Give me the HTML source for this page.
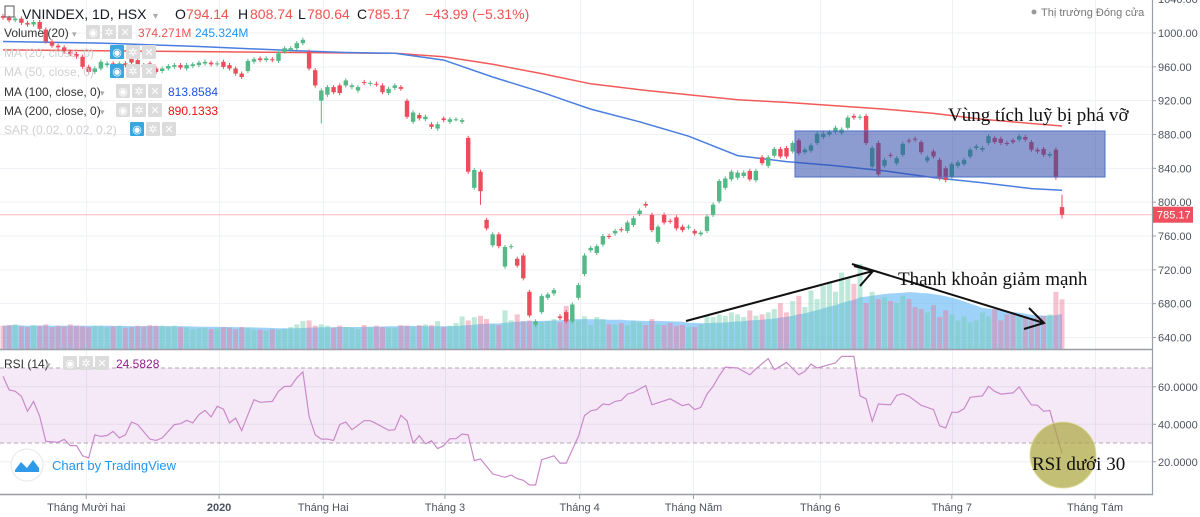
<!DOCTYPE html>
<html><head><meta charset="utf-8"><style>
html,body{margin:0;padding:0;background:#fff;}
#wrap{position:relative;width:1200px;height:517px;overflow:hidden;font-family:"Liberation Sans","DejaVu Sans",sans-serif;}
svg text{font-family:"Liberation Sans","DejaVu Sans",sans-serif;}
.serif{font-family:"Liberation Serif","DejaVu Serif",serif !important;}
</style></head><body>
<div id="wrap">
<svg id="svg" width="1200" height="517" viewBox="0 0 1200 517" xmlns="http://www.w3.org/2000/svg"></svg>
</div>
<script>
const opens = [1020,1018,1015,1017,1012,1010,1013,1004,990,985,983,978,975,972,960,954,958,962,964,961,964,970,968,962,964,958,955,958,960,962,958,961,962,964,965,963,966,962,958,952,955,966,970,968,969,967,978,980,982,988,978,956,920,927,936,938,938,936,932,942,940,940,938,929,935,936,
920,895,903,898,892,887,899,895,898,895,876,817,836,779,749,762,724,747,733,737,694,655,670,687,692,665,670,659,687,715,743,740,750,760,763,768,766,773,786,798,785,753,785,778,782,771,770,766,762,766,785,801,817,827,829,831,837,826,853,843,855,863,864,860,873,859,861,870,877,880,883,882,888,902,900,902,842,870,843,856,846,856,873,875,871,849,860,850,840,830,843,845,854,864,862,870,876,875,870,873,874,877,871,862,863,855,862,794.14];
const closes = [1018,1015,1017,1012,1010,1013,1005,990,985,983,978,975,972,960,954,958,966,964,961,964,962,965,962,960,958,954,958,961,962,959,962,963,965,966,963,964,960,958,952,948,967,969,968,970,968,976,982,982,988,992,958,938,932,936,930,929,944,938,936,941,941,939,930,934,938,934,
901,906,899,901,889,892,897,898,898,897,836,838,813,769,762,748,747,748,725,710,666,659,689,691,696,663,659,679,702,737,746,748,760,759,766,767,776,781,790,796,767,771,776,777,769,767,771,763,764,783,797,825,828,836,835,835,827,837,846,853,863,854,854,870,858,862,867,881,881,883,888,886,900,900,901,870,864,833,850,855,852,869,872,874,859,853,854,828,826,845,847,850,862,866,864,878,871,870,869,871,878,874,862,860,856,857,829,785.17];
const highOverride = {173: 808.74};
const lowOverride = {52: 893, 78: 797, 173: 780.64};
const volumes = [175,180,185,170,165,180,175,185,165,175,170,185,175,170,165,175,175,165,170,175,160,165,175,170,180,175,175,170,175,165,160,150,155,160,150,155,165,160,150,165,155,145,145,140,150,145,150,165,185,210,215,175,185,175,160,175,165,160,150,180,165,175,165,160,160,180,175,165,180,185,180,210,165,175,195,245,215,240,250,225,185,180,290,215,260,210,215,185,200,210,225,200,325,210,215,245,180,240,225,185,185,195,180,210,200,180,225,185,180,195,175,180,165,165,185,245,240,260,250,275,260,240,290,250,260,275,300,345,275,360,400,315,440,375,475,505,430,575,530,490,640,345,430,375,390,360,345,400,375,315,300,275,330,240,290,260,215,245,200,215,275,245,300,215,260,265,240,245,215,245,250,260,430,374];
const ma100Idx = [0,16,32,48,56,64,72,80,88,92,96,104,112,120,128,136,144,152,160,168,173];
const ma100Val = [990,988,984,979,977,976,968,948,930,920,910,895,878,855,848,843,837,829,823,816,814];
const ma200Idx = [0,16,32,48,64,72,80,88,96,104,112,120,128,136,144,152,160,168,173];
const ma200Val = [980,979,978,977,976,972,963,952,940,933,927,921,918,914,910,905,898,893,890];
const rsiIdx = [0,1,2,3,4,5,6,7,9,10,11,12,13,14,15,16,17,18,19,20,21,22,24,25,26,28,29,30,31,32,33,34,35,36,37,38,39,40,41,42,44,45,46,47,48,49,50,51,52,53,54,55,56,57,59,60,61,63,64,65,66,67,68,69,70,71,72,73,74,75,76,77,78,80,82,83,84,85,86,87,88,90,91,92,94,95,96,97,98,99,100,101,102,103,105,106,109,111,112,113,114,115,116,117,118,120,122,123,124,125,126,127,128,130,131,132,133,135,136,137,139,140,141,142,143,145,146,147,148,150,152,153,154,155,156,157,158,160,161,162,163,165,166,167,168,169,170,171,173];
const rsiVal = [65.6,58.4,57.6,54.9,46.9,52.2,44.2,30.9,30.4,32,28.6,28.6,23.2,22,34.4,33.5,34,36.2,32.7,34.4,41.2,39.8,32.1,31.4,32.7,39.8,40.3,42.1,40.7,45.1,47.4,43.9,49.6,48.1,40.7,43.3,36.6,45.1,53.1,51.7,52.2,57.6,60.2,60.2,64.7,67.9,44.2,34.4,32.1,32.1,31.4,39.8,41.2,37.1,41.9,41.9,40.3,36.8,37.1,44.8,41.9,30,33.9,29.6,31.2,27,28.6,32.3,32.3,34.8,34.3,20.6,21.5,13.5,11.7,12.9,11,10.1,7.6,7.6,21.1,23.2,19.3,19.3,33.5,44.6,47.2,47.8,50.8,50.4,52.2,52.8,56.1,57,60.6,50.4,53.6,49.9,50.8,47.8,49,56.1,60.2,65.9,70.5,70,66.4,69.5,72.3,75,69.1,70.9,73,66.4,68.2,72.1,70,71.8,72.7,76.2,76.2,55.2,53.6,41.6,50.8,50.4,55.4,56.3,54.9,50.1,47.8,39.2,38,46.4,46.4,48.3,54.4,55.2,60.2,57.6,56.1,56.7,59.9,54.9,50.4,50.1,46.9,47.4,24.6];
const priceTicks = [1040,1000,960,920,880,840,800,760,720,680,640];
const priceTickLabels = ["1040.00","1000.00","960.00","920.00","880.00","840.00","800.00","760.00","720.00","680.00","640.00"];
const rsiTicks = [60,40,20];
const rsiTickLabels = ["60.0000","40.0000","20.0000"];
const monthLabels = ["Tháng Mười hai","2020","Tháng Hai","Tháng 3","Tháng 4","Tháng Năm","Tháng 6","Tháng 7","Tháng Tám"];
const monthIdx = [13.6,35.3,52.3,72.2,94.2,112.8,133.5,155,178.4];
const lastClose = 785.17;

const NS='http://www.w3.org/2000/svg';
const svg=document.getElementById('svg');
const N=closes.length;
const X0=3, X1=1062;
const step=(X1-X0)/(N-1);
function xOf(i){return X0+i*step;}
function yP(p){return 337.5-(p-640)*(304.5/360);}
function yV(v){return 349-v*0.133;}
function yR(v){return 368+(70-v)*1.875;}
function mk(tag,attrs,parent){const e=document.createElementNS(NS,tag);for(const k in attrs)e.setAttribute(k,attrs[k]);(parent||svg).appendChild(e);return e;}
function grp(name){const g=mk('g',{});return g;}

// grid
const grid=grp('grid');
priceTicks.forEach(p=>{const y=yP(p);const l=mk('line',{x1:0,x2:1152,y1:y,y2:y,stroke:'#eef1f6','stroke-width':1},grid);});
rsiTicks.forEach(v=>{const y=yR(v);const l=mk('line',{x1:0,x2:1152,y1:y,y2:y,stroke:'#eef1f6','stroke-width':1},grid);});
monthIdx.forEach(m=>{const x=Math.round(xOf(m))+0.5;const l=mk('line',{x1:x,x2:x,y1:0,y2:494,stroke:'#eef1f6','stroke-width':1},grid);});

// volume MA area
const volG=grp('volume-pane');
const vma=[];for(let i=0;i<N;i++){let s=0,c=0;for(let j=Math.max(0,i-19);j<=i;j++){s+=volumes[j];c++;}vma.push(s/c);}
let d='M'+xOf(0)+' 349';for(let i=0;i<N;i++)d+=' L'+xOf(i).toFixed(1)+' '+yV(vma[i]).toFixed(1);d+=' L'+xOf(N-1)+' 349 Z';
const va=mk('path',{d:d,fill:'rgba(95,180,245,0.6)'},volG);
for(let i=0;i<N;i++){const up=closes[i]>=opens[i];const y=yV(volumes[i]);
const r=mk('rect',{x:(xOf(i)-2.5).toFixed(1),y:y.toFixed(1),width:5,height:(349-y).toFixed(1),fill:up?'rgba(110,205,170,0.45)':'rgba(235,120,150,0.45)'},volG);
}

// price line
const pl=mk('line',{x1:0,x2:1152,y1:yP(lastClose),y2:yP(lastClose),stroke:'rgba(242,54,69,0.35)','stroke-width':1});


// MAs
function maPath(idx,val,color,name){let s='';for(let k=0;k<idx.length;k++)s+=(k?' L':'M')+xOf(idx[k]).toFixed(1)+' '+yP(val[k]).toFixed(1);const p=mk('path',{d:s,fill:'none',stroke:color,'stroke-width':1.5});}
maPath(ma200Idx,ma200Val,'#f25a5a','ma200-line');
maPath(ma100Idx,ma100Val,'#4a7ee0','ma100-line');

// candles
const cG=grp('candles');
for(let i=0;i<N;i++){const o=opens[i],c=closes[i];const up=c>=o;const col=up?'#53b987':'#eb4d5c';
const hi=(highOverride[i]!==undefined)?highOverride[i]:Math.max(o,c)+2.5;const lo=(lowOverride[i]!==undefined)?lowOverride[i]:Math.min(o,c)-2.5;
const x=xOf(i);
const w=mk('line',{x1:x.toFixed(1),x2:x.toFixed(1),y1:yP(hi).toFixed(1),y2:yP(lo).toFixed(1),stroke:col,'stroke-width':1},cG);
const yt=yP(Math.max(o,c)),yb=yP(Math.min(o,c));
const b=mk('rect',{x:(x-2.2).toFixed(1),y:yt.toFixed(1),width:4.4,height:Math.max(1,yb-yt).toFixed(1),fill:col},cG);}

// RSI
const rG=grp('rsi-pane');
const band=mk('rect',{x:0,y:yR(70),width:1152,height:yR(30)-yR(70),fill:'rgba(156,39,176,0.1)'},rG);
[70,30].forEach(v=>{const l=mk('line',{x1:0,x2:1152,y1:yR(v),y2:yR(v),stroke:'#b7a3b7','stroke-dasharray':'4 3','stroke-width':1},rG);});
let rd='';for(let k=0;k<rsiIdx.length;k++)rd+=(k?' L':'M')+xOf(rsiIdx[k]).toFixed(1)+' '+yR(rsiVal[k]).toFixed(1);
const rl=mk('path',{d:rd,fill:'none',stroke:'#c98ac9','stroke-width':1.2},rG);

// annotations
const box=mk('rect',{x:795,y:131,width:310,height:46,fill:'rgba(45,75,170,0.55)',stroke:'#4c6fc9','stroke-width':1});
const t1=mk('text',{x:948,y:121,'font-size':19,fill:'#111',class:'serif'});t1.textContent='Vùng tích luỹ bị phá vỡ';
const t2=mk('text',{x:898,y:285,'font-size':19,fill:'#111',class:'serif'});t2.textContent='Thanh khoản giảm mạnh';
const a1=mk('path',{d:'M686 321 L873 271 M860 286 L873 271 L854 266',fill:'none',stroke:'#111','stroke-width':2});
const a2=mk('path',{d:'M852 264 L1044 323 M1029 308 L1044 323 L1024 329',fill:'none',stroke:'#111','stroke-width':2});
const circ=mk('circle',{cx:1063,cy:455,r:33,fill:'rgba(170,165,60,0.7)',stroke:'rgba(220,220,150,0.8)','stroke-width':1});
const t3=mk('text',{x:1032,y:470,'font-size':19,fill:'#111',class:'serif'});t3.textContent='RSI dưới 30';

// axes
const ax=grp('axes');
mk('rect',{x:1153,y:0,width:47,height:517,fill:'#fff'},ax);
mk('rect',{x:0,y:495,width:1153,height:22,fill:'#fff'},ax);
mk('line',{x1:1152.5,x2:1152.5,y1:0,y2:495,stroke:'#9a9ea6','stroke-width':1.2},ax);
mk('line',{x1:0,x2:1153,y1:349.5,y2:349.5,stroke:'#9a9ea6','stroke-width':1.5},ax);
mk('line',{x1:0,x2:1153,y1:494.5,y2:494.5,stroke:'#9a9ea6','stroke-width':1.5},ax);
priceTicks.forEach((p,k)=>{const y=yP(p);mk('line',{x1:1152,x2:1156,y1:y,y2:y,stroke:'#9a9ea6'},ax);const t=mk('text',{x:1158,y:y+4,'font-size':11,fill:'#4c525e'},ax);t.textContent=priceTickLabels[k];});
rsiTicks.forEach((v,k)=>{const y=yR(v);mk('line',{x1:1152,x2:1156,y1:y,y2:y,stroke:'#9a9ea6'},ax);const t=mk('text',{x:1158,y:y+4,'font-size':11,fill:'#4c525e'},ax);t.textContent=rsiTickLabels[k];});
monthIdx.forEach((m,k)=>{const x=xOf(m);mk('line',{x1:x,x2:x,y1:495,y2:499,stroke:'#9a9ea6'},ax);const t=mk('text',{x:x,y:511,'font-size':11,fill:'#4c525e','text-anchor':'middle','font-weight':monthLabels[k]==='2020'?'bold':'normal'},ax);t.textContent=monthLabels[k];});
const lp=yP(lastClose);
const lb=mk('rect',{x:1153,y:lp-8,width:40,height:16,fill:'#ef4f5e'},ax);
const lt=mk('text',{x:1157,y:lp+4,'font-size':11,fill:'#fff'},ax);lt.textContent='785.17';

// legend
const lg=grp('legend');
function txt(x,y,s,size,color,name,extra){const t=mk('text',Object.assign({x:x,y:y,'font-size':size,fill:color},extra||{}),lg);t.textContent=s;return t;}
function icons(x,y,n,first){for(let k=0;k<3;k++){const r=mk('rect',{x:x+k*16,y:y,width:14,height:14,fill:(k===0&&first)?'#3aa6e0':'#dcdcdc',rx:1},lg);
const g=mk('text',{x:x+k*16+7,y:y+11,'font-size':11,fill:'#fff','text-anchor':'middle'},lg);g.textContent=['◉','✲','✕'][k];}}
mk('rect',{x:5,y:6,width:9,height:11,fill:'none',stroke:'#555','stroke-width':1},lg);
txt(22,19,'VNINDEX, 1D, HSX',14,'#131722','symbol-title');
txt(153,19,'▾',10,'#aaa','symbol-menu');
txt(175,19,'O',14,'#131722','open-label');txt(186,19,'794.14',14,'#ef5350','open-value');
txt(238,19,'H',14,'#131722','high-label');txt(250,19,'808.74',14,'#ef5350','high-value');
txt(298,19,'L',14,'#131722','low-label');txt(307,19,'780.64',14,'#ef5350','low-value');
txt(357,19,'C',14,'#131722','close-label');txt(367,19,'785.17',14,'#ef5350','close-value');
txt(425,19,'−43.99 (−5.31%)',14,'#ef5350','change-value');
txt(4,37,'Volume (20)',12,'#333','volume-legend');txt(72,37,'▾',9,'#aaa','menu');icons(86,25,3,false);
txt(138,37,'374.271M',12,'#ef5350','volume-value');txt(195,37,'245.324M',12,'#2196f3','volume-ma-value');
txt(4,57,'MA (20, close, 0)',12,'#d0d0d0','ma20-legend');icons(110,45,3,true);
txt(4,76,'MA (50, close, 0)',12,'#d0d0d0','ma50-legend');icons(110,64,3,true);
txt(4,96,'MA (100, close, 0)',12,'#333','ma100-legend');txt(100,96,'▾',9,'#aaa','menu');icons(116,84,3,false);txt(168,96,'813.8584',12,'#1e53e5','ma100-value');
txt(4,115,'MA (200, close, 0)',12,'#333','ma200-legend');txt(100,115,'▾',9,'#aaa','menu');icons(116,103,3,false);txt(168,115,'890.1333',12,'#ee1111','ma200-value');
txt(4,134,'SAR (0.02, 0.02, 0.2)',12,'#d0d0d0','sar-legend');icons(130,122,3,true);
txt(4,368,'RSI (14)',12,'#333','rsi-legend');txt(46,368,'▾',9,'#aaa','menu');icons(63,356,3,false);txt(116,368,'24.5828',12,'#8e1f8e','rsi-value');
const dot=mk('circle',{cx:1034,cy:12,r:2.5,fill:'#999'},lg);
txt(1041,16,'Thị trường Đóng cửa',11,'#777','market-status');
// TradingView badge
const lc=mk('circle',{cx:27,cy:465,r:16,fill:'#fff',stroke:'#e6e6e6'},lg);
mk('path',{d:'M15 470 L21 462 L27 468 L33 460 L39 468 L39 472 L15 472 Z',fill:'#2f9be8'},lg);
const tv=txt(52,470,'Chart by TradingView',13,'#2196f3','tradingview-link');
</script>
</body></html>
